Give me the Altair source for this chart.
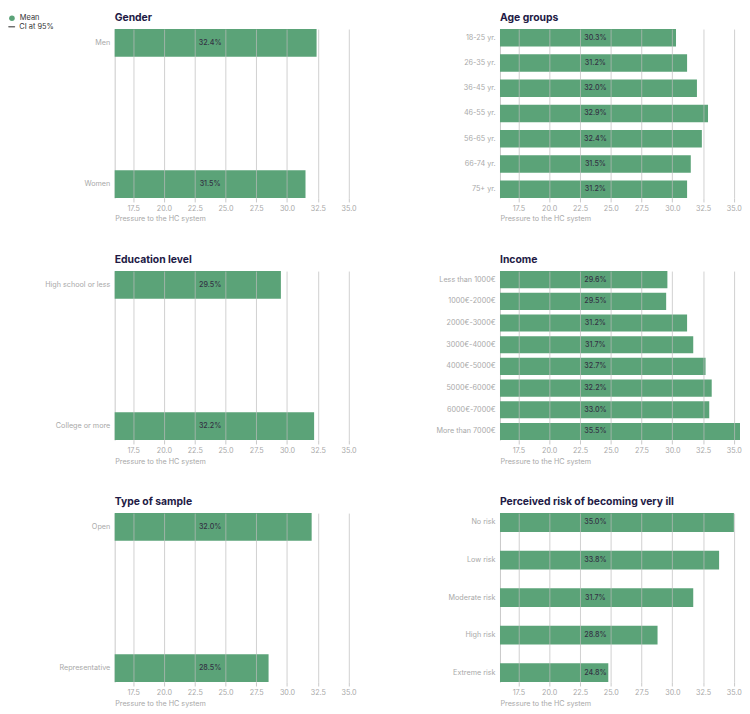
import altair as alt
import pandas as pd

# ---- data ----
gender_cats = ["Men", "Women"]
gender_vals = [32.4, 31.5]
gender_labels = ["32.4%", "31.5%"]

age_cats = ["18-25 yr.", "26-35 yr.", "36-45 yr.", "46-55 yr.", "56-65 yr.", "66-74 yr.", "75+ yr."]
age_vals = [30.3, 31.2, 32.0, 32.9, 32.4, 31.5, 31.2]
age_labels = ["30.3%", "31.2%", "32.0%", "32.9%", "32.4%", "31.5%", "31.2%"]

edu_cats = ["High school or less", "College or more"]
edu_vals = [29.5, 32.2]
edu_labels = ["29.5%", "32.2%"]

income_cats = ["Less than 1000€", "1000€-2000€", "2000€-3000€", "3000€-4000€",
               "4000€-5000€", "5000€-6000€", "6000€-7000€", "More than 7000€"]
income_vals = [29.6, 29.5, 31.2, 31.7, 32.7, 33.2, 33.0, 35.5]
income_labels = ["29.6%", "29.5%", "31.2%", "31.7%", "32.7%", "32.2%", "33.0%", "35.5%"]

sample_cats = ["Open", "Representative"]
sample_vals = [32.0, 28.5]
sample_labels = ["32.0%", "28.5%"]

risk_cats = ["No risk", "Low risk", "Moderate risk", "High risk", "Extreme risk"]
risk_vals = [35.0, 33.8, 31.7, 28.8, 24.8]
risk_labels = ["35.0%", "33.8%", "31.7%", "28.8%", "24.8%"]

x_ticks = [17.5, 20.0, 22.5, 25.0, 27.5, 30.0, 32.5, 35.0]
x_domain = [16, 35.5]
label_x = 23.75
mean_item = "Mean"
ci_item = "CI at 95%"

GREEN = "#5ba378"
GREY = "#a9a9a9"
W, H = 243, 171
EXT = 108


def panel(title, cats, vals, labels, pad_inner):
    df = pd.DataFrame({"cat": cats, "val": vals, "lab": labels,
                       "series": mean_item, "ci": ci_item})
    y = alt.Y("cat:N", sort=cats, title=None,
              scale=alt.Scale(paddingInner=pad_inner, paddingOuter=0),
              axis=alt.Axis(ticks=False, labelPadding=5, minExtent=EXT, maxExtent=EXT,
                            domainColor="#c8c8c8", labelColor=GREY, labelFontSize=7.3,
                            labelLimit=120))
    color = alt.Color("series:N", scale=alt.Scale(domain=[mean_item], range=[GREEN]),
                      legend=alt.Legend(title=None, orient="none", legendX=-108, legendY=-15,
                                        labelFontSize=7.5, labelColor="#333", symbolSize=32,
                                        symbolType="circle", padding=0, labelOffset=4))
    dash = alt.StrokeDash("ci:N", scale=alt.Scale(domain=[ci_item], range=[[1, 0]]),
                          legend=alt.Legend(title=None, orient="none", legendX=-108, legendY=-6,
                                            labelFontSize=7.5, labelColor="#333", symbolSize=40,
                                            symbolType="M-1,-0.09L1,-0.09L1,0.09L-1,0.09Z",
                                            symbolFillColor="#333", symbolStrokeColor="#333",
                                            symbolStrokeWidth=0.4, padding=0, labelOffset=4))
    bars = alt.Chart(df).mark_bar(clip=True).encode(
        x=alt.X("val:Q", scale=alt.Scale(domain=x_domain, nice=False, zero=False),
                title="Pressure to the HC system",
                axis=alt.Axis(values=x_ticks, tickCount=20, format=".1f", grid=True,
                              gridColor="#bdbdbd", gridOpacity=0.7, domain=False,
                              tickColor="#c8c8c8", tickSize=4,
                              labelColor=GREY, labelFontSize=7.3, labelPadding=3,
                              labelOverlap=False, labelFlush=False,
                              titleColor=GREY, titleFontSize=7.3, titleFontWeight="normal",
                              titleAnchor="start", titlePadding=3, zindex=1)),
        y=y,
        color=color,
        strokeDash=dash,
    )
    text = alt.Chart(df).mark_text(fontSize=7.2, color="#333344", fontWeight=500).encode(
        x=alt.datum(label_x),
        y=alt.Y("cat:N", sort=cats),
        text="lab:N",
    )
    return alt.layer(bars, text).properties(
        width=W, height=H,
        title=alt.TitleParams(title, anchor="start", frame="group", fontSize=10.5,
                              fontWeight="bold", color="#221a45", offset=6),
    )


chart = alt.concat(
    panel("Gender", gender_cats, gender_vals, gender_labels, 0.804),
    panel("Age groups", age_cats, age_vals, age_labels, 0.31),
    panel("Education level", edu_cats, edu_vals, edu_labels, 0.804),
    panel("Income", income_cats, income_vals, income_labels, 0.21),
    panel("Type of sample", sample_cats, sample_vals, sample_labels, 0.804),
    panel("Perceived risk of becoming very ill", risk_cats, risk_vals, risk_labels, 0.5),
    columns=2, spacing={"row": 32, "column": 37},
).configure(font="Inter", padding=0).configure_view(stroke=None)

chart.save("out.html", embed_options={"renderer": "svg", "actions": False})
